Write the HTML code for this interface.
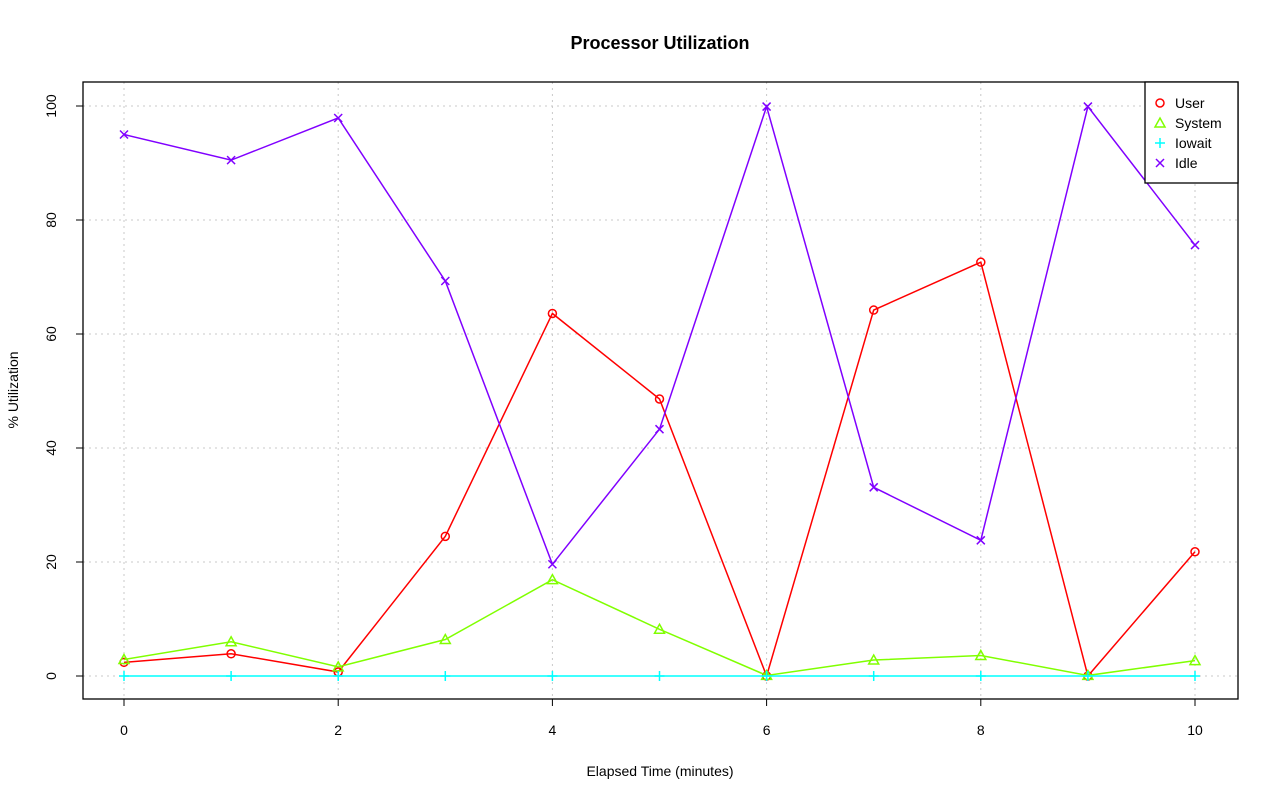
<!DOCTYPE html>
<html><head><meta charset="utf-8"><style>
body{margin:0;background:#fff}
svg{display:block;font-family:"Liberation Sans",sans-serif}
</style></head><body>
<svg id="chart" width="1280" height="801">
<text x="660" y="49" text-anchor="middle" font-size="18" font-weight="bold">Processor Utilization</text>
<text x="660" y="776" text-anchor="middle" font-size="14">Elapsed Time (minutes)</text>
<text x="18" y="390" text-anchor="middle" font-size="14" transform="rotate(-90 18 390)">% Utilization</text>
<g id="grid"></g><g id="axes"></g><g id="series"></g>
<rect x="83" y="82" width="1155" height="617" fill="none" stroke="#000" stroke-width="1.3"/>
<g id="legend"></g>
</svg>
<script>
const xs=[0,1,2,3,4,5,6,7,8,9,10];
const user=[2.4,3.9,0.7,24.5,63.6,48.6,0,64.2,72.6,0,21.8];
const system=[2.9,6.0,1.6,6.4,16.9,8.2,0.1,2.8,3.6,0.1,2.7];
const iowait=[0,0,0,0,0,0,0,0,0,0,0];
const idle=[95.0,90.5,97.9,69.3,19.6,43.3,99.9,33.1,23.8,99.9,75.6];
const xTicks=[0,2,4,6,8,10];
const yTicks=[0,20,40,60,80,100];
const names=["User","System","Iowait","Idle"];
const colors=["#ff0000","#80ff00","#00ffff","#8000ff"];
const NS="http://www.w3.org/2000/svg";
const X=v=>124+v*107.1, Y=v=>676-v*5.7;
function mk(t,a,p){const e=document.createElementNS(NS,t);for(const k in a)e.setAttribute(k,a[k]);p.appendChild(e);return e;}
const grid=document.getElementById('grid'),axes=document.getElementById('axes'),ser=document.getElementById('series'),leg=document.getElementById('legend');
xTicks.forEach(t=>{const l=mk('line',{x1:X(t),x2:X(t),y1:82,y2:699,stroke:'#c8c8c8','stroke-dasharray':'2,4'},grid);

const k=mk('line',{x1:X(t),x2:X(t),y1:699,y2:706,stroke:'#000'},axes);
const tx=mk('text',{x:X(t),y:735,'text-anchor':'middle','font-size':14},axes);tx.textContent=t;});
yTicks.forEach(t=>{const l=mk('line',{x1:83,x2:1238,y1:Y(t),y2:Y(t),stroke:'#c8c8c8','stroke-dasharray':'2,4'},grid);

const k=mk('line',{x1:76,x2:83,y1:Y(t),y2:Y(t),stroke:'#000'},axes);
const tx=mk('text',{x:56,y:Y(t),'text-anchor':'middle','font-size':14,transform:`rotate(-90 56 ${Y(t)})`},axes);tx.textContent=t;});
function sym(i,x,y,p){const c=colors[i];let e;
if(i===0)e=mk('circle',{cx:x,cy:y,r:4,fill:'none',stroke:c,'stroke-width':1.5},p);
else if(i===1)e=mk('polygon',{points:`${x},${y-5} ${x+5},${y+4} ${x-5},${y+4}`,fill:'none',stroke:c,'stroke-width':1.5},p);
else if(i===2)e=mk('path',{d:`M${x-5},${y}H${x+5}M${x},${y-5}V${y+5}`,stroke:c,'stroke-width':1.5},p);
else e=mk('path',{d:`M${x-4},${y-4}L${x+4},${y+4}M${x-4},${y+4}L${x+4},${y-4}`,stroke:c,'stroke-width':1.5},p);
return e;}
[user,system,iowait,idle].forEach((d,i)=>{const g=mk('g',{},ser);
const pl=mk('polyline',{points:d.map((v,j)=>X(xs[j])+','+Y(v)).join(' '),fill:'none',stroke:colors[i],'stroke-width':1.5},g);

d.forEach((v,j)=>{const m=sym(i,X(xs[j]),Y(v),g);});});
const lb=mk('rect',{x:1145,y:82,width:93,height:101,fill:'#fff',stroke:'#000','stroke-width':1.3},leg);
names.forEach((n,i)=>{const y=103+i*20;const g=mk('g',{},leg);
sym(i,1160,y,g);const t=mk('text',{x:1175,y:y+5,'font-size':14},g);t.textContent=n;});
</script>
</body></html>
